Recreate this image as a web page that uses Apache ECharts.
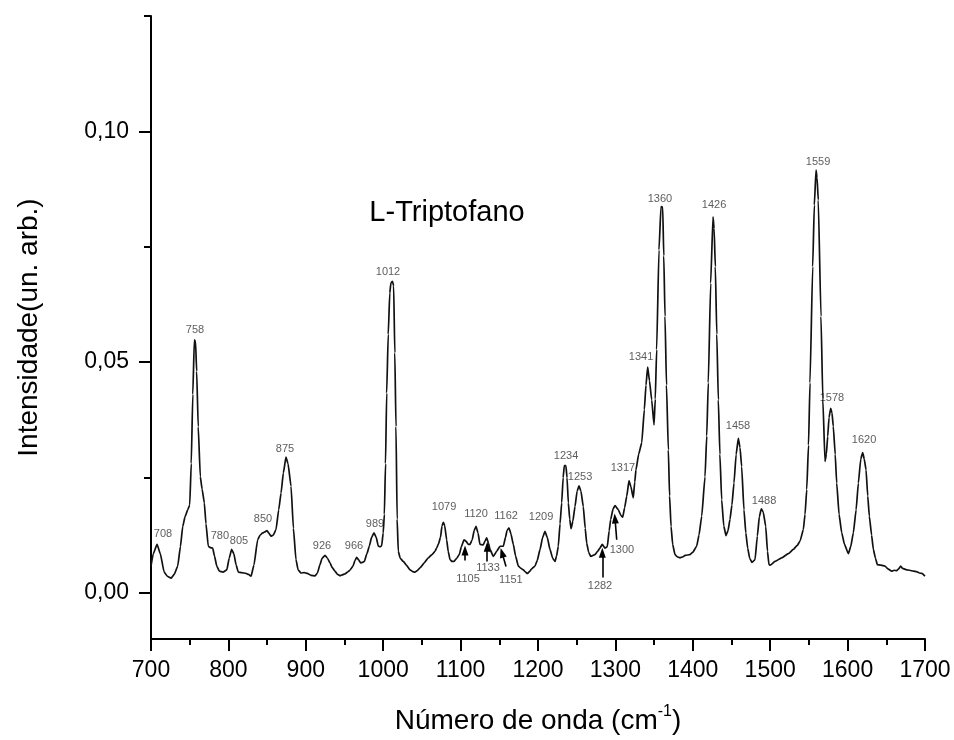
<!DOCTYPE html>
<html>
<head>
<meta charset="utf-8">
<script src="https://cdn.jsdelivr.net/npm/echarts@6/dist/echarts.min.js"></script>
<style>html,body{margin:0;padding:0;background:#fff}#c{width:954px;height:740px}</style>
</head>
<body>
<div id="c"></div>
<script>
// Raman spectrum of L-Triptofano
var wavenumber = [700,703,707.8,712,717,721,726,730,734.5,738,741,744,747.4,750,752,754,756,757.5,759,761,763.7,766,768.9,771,774,777,779.7,782,785,788.3,793,798,801,804.2,807,810,812.8,817,822.7,826,829.2,833,837.8,841,844.3,847,849.9,852,855,858,861.5,865,868,871,874.4,877,880.9,884,887.3,890,893.8,898,902,906.7,912,915,918.3,921,924.8,928,931.3,934,937.7,941,944.2,947,950.6,954,957,961,963.5,965.8,968,970.9,973,975.6,979,982,985,988.1,991,993.7,996,998,1000,1001.5,1003,1004.5,1006.5,1008.5,1010,1012,1013.5,1015,1016.5,1018,1019.5,1022,1026,1030,1034.6,1038,1041,1044,1047.5,1053,1058.3,1063,1066.9,1069,1071.2,1074,1076,1077.7,1079.5,1082,1084,1086.3,1089,1091.5,1095,1098.3,1101,1104.4,1107,1110,1112.1,1115,1117.5,1119.9,1122.5,1125,1129.3,1131.5,1133.7,1136,1138,1142.3,1146.6,1150.9,1155.2,1158,1160,1162.5,1165,1168.1,1171,1174.6,1178,1181,1184,1186.2,1189,1191.8,1196.1,1199,1202.6,1206,1209,1212,1215.5,1219,1222,1224,1226.2,1228.5,1230.6,1232.5,1234,1236,1237.5,1239.2,1241,1242.7,1245,1247.8,1250.5,1253,1255.5,1258.5,1261,1262.9,1265.5,1268.1,1273.6,1277,1280,1283,1286.6,1289.5,1292,1293.9,1297,1299.5,1303.8,1307,1309.4,1312,1314.6,1317.6,1320,1323.1,1325,1326.6,1330,1334,1337.4,1339.5,1341.7,1344,1346.9,1349.9,1351.5,1353.3,1356.3,1358.9,1361.1,1362.5,1364.1,1366,1368.4,1370,1371.9,1374,1377,1380,1383.5,1387,1390,1393,1396.4,1400,1405,1408,1411.5,1415.8,1418,1420,1423.1,1426.1,1427.5,1429.1,1431,1433,1435,1437.3,1440,1442.9,1445.5,1448,1450.5,1453.2,1456,1458.8,1461,1463.1,1466.1,1468.5,1470.9,1473.5,1476.5,1480.4,1483.4,1486,1488.5,1491,1494.2,1496.5,1498.4,1500,1506.2,1514.8,1523.4,1529.9,1535,1538.5,1542.8,1545,1547.2,1549.5,1551.4,1554.9,1557,1559.2,1560.5,1562.1,1565.6,1568,1570.8,1572.5,1574.3,1576,1578.2,1579.8,1581.5,1584,1585.9,1589,1592.4,1596,1601,1604,1607.4,1611,1613.9,1617,1619.5,1621.5,1623.8,1626,1628.1,1631,1633.3,1636,1638.5,1643,1648.3,1652,1657,1660,1663.4,1666,1668.6,1671,1676.4,1680,1685,1689,1692.7,1696,1700];
var intensity = [0.0058,0.0085,0.0105,0.0085,0.0045,0.0036,0.0032,0.0040,0.0058,0.0100,0.0144,0.0165,0.0180,0.0190,0.0280,0.0430,0.0548,0.0545,0.0480,0.0360,0.0252,0.0225,0.0195,0.0150,0.0101,0.0098,0.0097,0.0080,0.0058,0.0047,0.0045,0.0050,0.0075,0.0094,0.0085,0.0060,0.0045,0.0044,0.0042,0.0040,0.0036,0.0060,0.0115,0.0125,0.0130,0.0132,0.0135,0.0130,0.0123,0.0125,0.0137,0.0180,0.0216,0.0260,0.0294,0.0280,0.0231,0.0140,0.0072,0.0050,0.0043,0.0044,0.0042,0.0038,0.0037,0.0043,0.0061,0.0075,0.0081,0.0075,0.0065,0.0055,0.0047,0.0040,0.0037,0.0039,0.0041,0.0045,0.0049,0.0058,0.0070,0.0077,0.0072,0.0065,0.0066,0.0068,0.0085,0.0101,0.0120,0.0130,0.0120,0.0101,0.0100,0.0102,0.0130,0.0170,0.0280,0.0433,0.0560,0.0650,0.0672,0.0675,0.0665,0.0520,0.0360,0.0160,0.0090,0.0075,0.0068,0.0060,0.0050,0.0046,0.0045,0.0048,0.0054,0.0065,0.0076,0.0083,0.0090,0.0097,0.0105,0.0120,0.0145,0.0153,0.0145,0.0115,0.0090,0.0072,0.0068,0.0068,0.0075,0.0083,0.0100,0.0115,0.0112,0.0105,0.0105,0.0115,0.0135,0.0144,0.0130,0.0105,0.0104,0.0112,0.0119,0.0108,0.0094,0.0079,0.0090,0.0101,0.0101,0.0120,0.0135,0.0141,0.0128,0.0105,0.0080,0.0058,0.0053,0.0050,0.0045,0.0042,0.0046,0.0052,0.0058,0.0070,0.0094,0.0120,0.0133,0.0120,0.0094,0.0075,0.0068,0.0080,0.0101,0.0150,0.0195,0.0250,0.0276,0.0276,0.0250,0.0195,0.0160,0.0139,0.0155,0.0187,0.0220,0.0232,0.0220,0.0187,0.0140,0.0108,0.0088,0.0079,0.0083,0.0090,0.0097,0.0105,0.0097,0.0100,0.0135,0.0159,0.0182,0.0189,0.0180,0.0168,0.0164,0.0185,0.0209,0.0243,0.0230,0.0206,0.0240,0.0267,0.0300,0.0325,0.0397,0.0450,0.0489,0.0460,0.0418,0.0364,0.0420,0.0527,0.0743,0.0837,0.0836,0.0730,0.0599,0.0450,0.0310,0.0210,0.0144,0.0105,0.0083,0.0078,0.0076,0.0078,0.0081,0.0082,0.0083,0.0088,0.0101,0.0125,0.0166,0.0252,0.0340,0.0455,0.0671,0.0815,0.0790,0.0707,0.0560,0.0418,0.0300,0.0202,0.0145,0.0124,0.0135,0.0159,0.0190,0.0238,0.0300,0.0335,0.0315,0.0274,0.0180,0.0130,0.0097,0.0075,0.0066,0.0072,0.0123,0.0165,0.0182,0.0175,0.0144,0.0090,0.0061,0.0060,0.0068,0.0076,0.0085,0.0094,0.0103,0.0112,0.0137,0.0170,0.0224,0.0320,0.0455,0.0707,0.0840,0.0916,0.0900,0.0851,0.0599,0.0420,0.0285,0.0300,0.0339,0.0380,0.0400,0.0390,0.0361,0.0300,0.0238,0.0170,0.0130,0.0105,0.0085,0.0100,0.0130,0.0180,0.0238,0.0290,0.0304,0.0290,0.0267,0.0210,0.0166,0.0125,0.0094,0.0075,0.0061,0.0060,0.0058,0.0052,0.0047,0.0049,0.0048,0.0052,0.0058,0.0053,0.0050,0.0049,0.0047,0.0046,0.0043,0.0042,0.0036];

// peak annotations: text and the data point where each text sits
var peakText = ['708','758','780','805','850','875','926','966','989','1012','1079','1120','1162','1209','1105','1133','1151','1234','1253','1282','1300','1317','1341','1360','1426','1458','1488','1559','1578','1620'];
var peakTextX = [715.5,756.8,789,813.7,844.7,873.1,920.9,962.3,989.4,1006.2,1078.6,1119.9,1158.7,1203.9,1109.6,1135.4,1165,1236.2,1254.3,1280.1,1308.5,1309.8,1333.1,1357.6,1427.4,1458.4,1492,1561.8,1579.8,1621.2];
var peakTextY = [0.0128,0.0570,0.01225,0.0113,0.0160,0.0312,0.0101,0.0101,0.0149,0.0696,0.0186,0.0170,0.0167,0.0164,0.0030,0.0054,0.0029,0.0296,0.0252,0.0014,0.0092,0.0270,0.0511,0.0853,0.0840,0.0362,0.0200,0.0934,0.0423,0.0332];

// arrows (tail -> head) pointing at weak bands
var arrowFromX = [1105.7,1134.4,1158.7,1283.1,1301.7];
var arrowFromY = [0.0070,0.0068,0.0057,0.0033,0.0115];
var arrowToX   = [1105.7,1134.4,1153.5,1283.1,1299.5];
var arrowToY   = [0.0092,0.0100,0.0087,0.0087,0.0161];

var xTicks = [700,1700,100];
var yMajor = [0, 0.05, 0.10];
var yMinor = [0.025, 0.075, 0.125];

var FONT = "'Liberation Sans', Arial, sans-serif";
var spectrum = wavenumber.map(function (w, i) { return [w, intensity[i]]; });
var labels = peakText.map(function (t, i) { return { name: t, value: [peakTextX[i], peakTextY[i]] }; });
var arrows = arrowFromX.map(function (x, i) {
  return [{ coord: [x, arrowFromY[i]] }, { coord: [arrowToX[i], arrowToY[i]] }];
});

var chart = echarts.init(document.getElementById('c'), null, { renderer: 'canvas' });
chart.setOption({
  animation: false,
  backgroundColor: '#fff',
  textStyle: { fontFamily: FONT },
  grid: { left: 151, right: 29, top: 16, bottom: 100 },
  xAxis: {
    type: 'value', min: xTicks[0], max: xTicks[1], interval: xTicks[2],
    name: '{a|Número de onda (cm}{s|-1}{a|)}',
    nameLocation: 'middle', nameGap: 65,
    nameTextStyle: {
      rich: {
        a: { fontSize: 28, fontFamily: FONT, color: '#000', lineHeight: 34 },
        s: { fontSize: 16, fontFamily: FONT, color: '#000', verticalAlign: 'top', lineHeight: 16 }
      }
    },
    axisLine: { show: true, onZero: false, lineStyle: { color: '#000', width: 2 } },
    axisTick: { show: true, length: 12, lineStyle: { color: '#000', width: 2 } },
    minorTick: { show: true, splitNumber: 2, length: 6, lineStyle: { color: '#000', width: 2 } },
    axisLabel: { fontSize: 23, color: '#000', margin: 20, fontFamily: FONT,
      formatter: function (v) { return String(v); } },
    splitLine: { show: false }
  },
  yAxis: [{
    type: 'value', min: -0.01, max: 0.125, position: 'left',
    name: 'Intensidade(un. arb.)', nameLocation: 'middle', nameGap: 108,
    nameTextStyle: { fontSize: 28, color: '#000', fontFamily: FONT },
    axisLine: { show: true, onZero: false, lineStyle: { color: '#000', width: 2 } },
    axisTick: { show: true, length: 12, customValues: yMajor, lineStyle: { color: '#000', width: 2 } },
    axisLabel: {
      fontSize: 23, color: '#000', margin: 22, fontFamily: FONT, customValues: yMajor,
      formatter: function (v) { return v.toFixed(2).replace('.', ','); }
    },
    splitLine: { show: false }
  }, {
    type: 'value', min: -0.01, max: 0.125, position: 'left',
    axisLine: { show: false },
    axisTick: { show: true, length: 7, customValues: yMinor, lineStyle: { color: '#000', width: 2 } },
    axisLabel: { show: false },
    splitLine: { show: false }
  }],
  graphic: [{
    type: 'text', x: 447, y: 213,
    style: { text: 'L-Triptofano', font: '29px ' + FONT, fill: '#000', textAlign: 'center', textVerticalAlign: 'middle' }
  }],
  series: [{
    type: 'line', data: spectrum, showSymbol: false, symbol: 'none',
    lineStyle: { color: '#111', width: 1.7 }, smooth: 0.15, smoothMonotone: 'x',
    markLine: {
      silent: true, symbol: ['none', 'triangle'], symbolSize: [7, 10],
      label: { show: false },
      lineStyle: { color: '#000', width: 1.6, type: 'solid' },
      data: arrows
    }
  }, {
    type: 'scatter', data: labels, symbolSize: 1, itemStyle: { color: 'rgba(0,0,0,0)' },
    silent: true,
    label: { show: true, position: 'inside', formatter: '{b}', fontSize: 11, color: '#333', fontFamily: FONT }
  }]
});
</script>
</body>
</html>
